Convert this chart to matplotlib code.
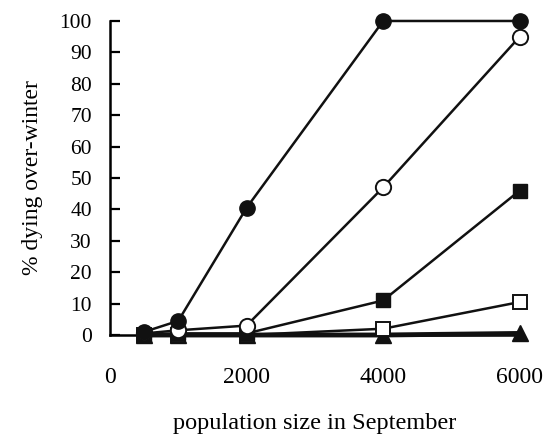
import matplotlib.pyplot as plt

plt.rcParams['font.family'] = ['Liberation Serif', 'DejaVu Serif']

population = [500, 1000, 2000, 4000, 6000]
filled_circle = [1, 4.5, 40.5, 100, 100]
open_circle = [0.5, 1.5, 3, 47, 95]
filled_square = [0, 0.5, 0.5, 11, 46]
open_square = [0, 0, 0, 2, 10.5]
filled_triangle = [0, 0, 0, 0, 0.5]

fig = plt.figure(figsize=(5.5, 4.37), dpi=100)
ax = fig.add_axes([0.2, 0.2334, 0.745, 0.7186])

style = dict(color='#111111', lw=1.8, ms=11, clip_on=False, zorder=3)
ax.plot(population, filled_triangle, marker='^', mfc='#111111', mec='#111111', **{**style, 'lw': 3.5})
ax.plot(population, open_square, marker='s', mfc='white', mec='#111111', mew=1.4, **{**style, 'ms': 10})
ax.plot(population, filled_square, marker='s', mfc='#111111', mec='#111111', **{**style, 'ms': 10})
ax.plot(population, open_circle, marker='o', mfc='white', mec='#111111', mew=1.4, **style)
ax.plot(population, filled_circle, marker='o', mfc='#111111', mec='#111111', **style)

ax.set_xlim(0, 6000)
ax.set_ylim(0, 100)
ax.set_xticks([0, 2000, 4000, 6000])
ax.set_yticks(range(0, 101, 10))
ax.tick_params(axis='y', direction='in', length=7, width=1.6, pad=13, labelsize=15.5)
ax.tick_params(axis='x', length=0, pad=23, labelsize=17)

for side in ['top', 'right']:
    ax.spines[side].set_visible(False)
ax.spines['left'].set_linewidth(1.8)
ax.spines['bottom'].set_linewidth(1.8)

ax.set_xlabel('population size in September', fontsize=17.5, labelpad=18)
ax.set_ylabel('% dying over-winter', fontsize=17, labelpad=12)

fig.savefig('out.png', dpi=100)
